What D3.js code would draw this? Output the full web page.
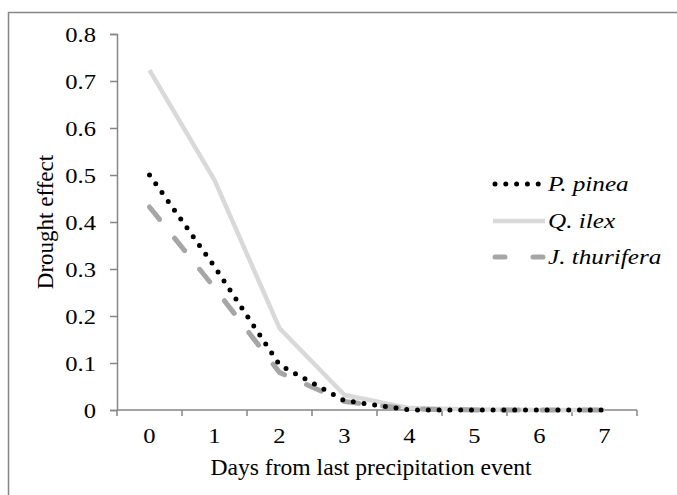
<!DOCTYPE html>
<html>
<head>
<meta charset="utf-8">
<script src="https://cdn.jsdelivr.net/npm/d3@7"></script>
<style>
  body { margin: 0; background: #fff; }
</style>
</head>
<body>
<div id="chart"></div>
<script>
var days = [0, 1, 2, 3, 4, 5, 6, 7]
var yTicks = [0, 0.1, 0.2, 0.3, 0.4, 0.5, 0.6, 0.7, 0.8]

var pinea = [0.50, 0.305, 0.096, 0.02, 0.0, 0.0, 0.0, 0.0]
var ilex = [0.723, 0.489, 0.174, 0.032, 0.004, 0.001, 0.0, 0.0]
var thurifera = [0.432, 0.26, 0.08, 0.018, 0.002, 0.0, 0.0, 0.0]

var seriesNames = ["P. pinea", "Q. ilex", "J. thurifera"]

var width = 677, height = 495
var AXIS = "#868686"
var SERIF = "'Liberation Serif', 'Times New Roman', 'DejaVu Serif', serif"
var SX = 1.17   // the source text is a bit wider than plain Times

var svg = d3.select("#chart").append("svg")
  .attr("width", width)
  .attr("height", height)
  .style("font-family", SERIF)

// outer chart border (runs off right and bottom edge)
svg.append("rect")
  .attr("x", 8.5).attr("y", 12.5)
  .attr("width", 700).attr("height", 520)
  .attr("fill", "none").attr("stroke", AXIS).attr("stroke-width", 1.5)

var x0 = 117, x1 = 637, yTop = 34, yBot = 410

var x = d3.scaleBand().domain(days).range([x0, x1])
var y = d3.scaleLinear().domain([0, 0.8]).range([yBot, yTop])

function label(parent, px, py, str, size, sx, anchor){
  return parent.append("text")
    .attr("transform", "translate(" + px + "," + py + ") scale(" + sx + ",1)")
    .attr("text-anchor", anchor)
    .style("font-family", SERIF)
    .style("font-size", size + "px")
    .attr("fill", "#000")
    .text(str)
}

// y axis
var ya = svg.append("g").attr("transform", "translate(" + x0 + ",0)")
  .call(d3.axisLeft(y).tickValues(yTicks).tickSize(7)
    .tickFormat(function(d){ return d === 0 ? "0" : d3.format(".1f")(d) }))
ya.attr("font-family", null)
ya.select(".domain").attr("stroke", AXIS).attr("stroke-width", 1.5)
ya.selectAll(".tick line").attr("stroke", AXIS).attr("stroke-width", 1.5)
ya.selectAll(".tick text")
  .attr("x", 0).attr("dy", null)
  .attr("transform", "translate(-21,7) scale(" + SX + ",1)")
  .style("font-family", SERIF)
  .style("font-size", "21px")
  .attr("fill", "#000")

// x axis: ticks sit between categories
var xa = svg.append("g").attr("transform", "translate(0," + yBot + ")")
xa.append("line")
  .attr("x1", x0).attr("x2", x1).attr("y1", 0).attr("y2", 0)
  .attr("stroke", AXIS).attr("stroke-width", 1.5)
var edges = days.map(function(d){ return x(d) }).concat([x1])
xa.selectAll(".edge").data(edges).enter().append("line")
  .attr("x1", function(d){ return d }).attr("x2", function(d){ return d })
  .attr("y1", 0).attr("y2", 6)
  .attr("stroke", AXIS).attr("stroke-width", 1.5)
days.forEach(function(d){
  label(xa, x(d) + x.bandwidth() / 2, 33, d, 21, SX, "middle")
})

// axis titles
label(svg, (x0 + x1) / 2 - 6, 475, "Days from last precipitation event", 22.5, 1.05, "middle")

svg.append("text")
  .attr("transform", "translate(53," + ((yTop + yBot) / 2) + ") rotate(-90)")
  .attr("text-anchor", "middle")
  .style("font-family", SERIF)
  .style("font-size", "23px")
  .text("Drought effect")

var styles = [
  { color: "#000000", width: 5, dash: "0,10.8", cap: "round" },
  { color: "#d9d9d9", width: 4.5, dash: null, cap: "butt" },
  { color: "#a6a6a6", width: 5, dash: "16,24", cap: "round" }
]
var allSeries = [pinea, ilex, thurifera]

var line = d3.line()
  .x(function(d, i){ return x(days[i]) + x.bandwidth() / 2 })
  .y(function(d){ return y(d) })

// draw Q. ilex first so it sits behind
var order = [1, 2, 0]
order.forEach(function(k){
  var s = styles[k]
  svg.append("path")
    .datum(allSeries[k])
    .attr("d", line)
    .attr("fill", "none")
    .attr("stroke", s.color)
    .attr("stroke-width", s.width)
    .attr("stroke-linecap", s.cap)
    .attr("stroke-linejoin", "round")
    .attr("stroke-dasharray", s.dash)
})

// legend
var legY = [184, 221, 257]
var legX = [[495, 545], [493, 545], [495, 546]]
var legDash = ["0,10.8", null, "10,28"]
seriesNames.forEach(function(name, k){
  var s = styles[k]
  var g = svg.append("g").attr("transform", "translate(0," + legY[k] + ")")
  g.append("line")
    .attr("x1", legX[k][0]).attr("x2", legX[k][1])
    .attr("y1", 0).attr("y2", 0)
    .attr("stroke", s.color).attr("stroke-width", s.width)
    .attr("stroke-linecap", s.cap)
    .attr("stroke-dasharray", legDash[k])
  label(g, 548, 7, name, 21, 1.2, "start").style("font-style", "italic")
})
</script>
</body>
</html>
